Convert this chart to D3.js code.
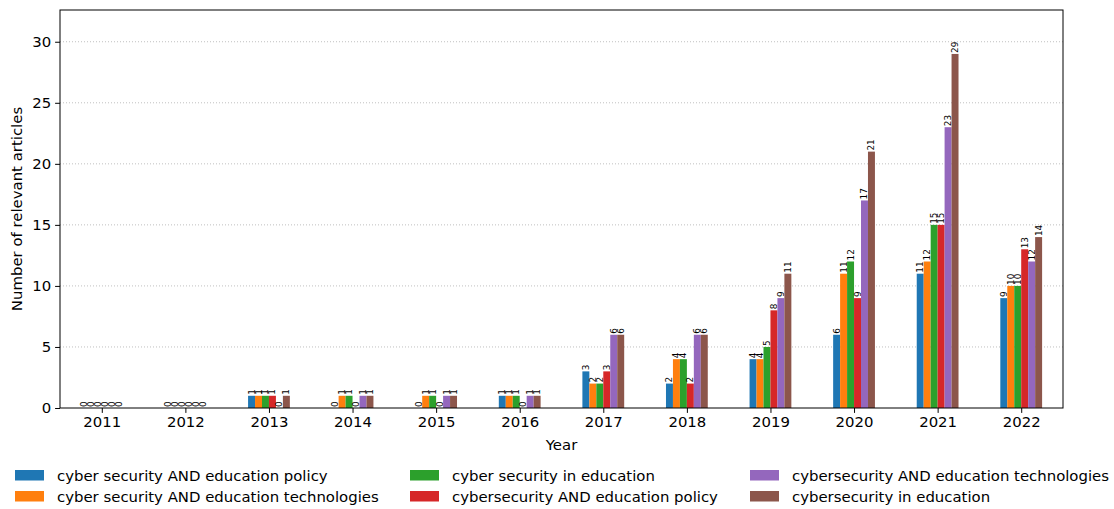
<!DOCTYPE html>
<html><head><meta charset="utf-8">
<script src="https://cdn.jsdelivr.net/npm/d3@7"></script>
<style>body{margin:0;background:#fff;} text{font-family:"DejaVu Sans",sans-serif;}</style>
</head><body><svg id="c" width="1114" height="509"></svg>
<script>
const years = ["2011","2012","2013","2014","2015","2016","2017","2018","2019","2020","2021","2022"];
const seriesNames = ["cyber security AND education policy","cyber security AND education technologies","cyber security in education","cybersecurity AND education policy","cybersecurity AND education technologies","cybersecurity in education"];
const s0 = [0,0,1,0,0,1,3,2,4,6,11,9];
const s1 = [0,0,1,1,1,1,2,4,4,11,12,10];
const s2 = [0,0,1,1,1,1,2,4,5,12,15,10];
const s3 = [0,0,1,0,0,0,3,2,8,9,15,13];
const s4 = [0,0,0,1,1,1,6,6,9,17,23,12];
const s5 = [0,0,1,1,1,1,6,6,11,21,29,14];
const yTicks = [0,5,10,15,20,25,30];
const colors = ["#1f77b4","#ff7f0e","#2ca02c","#d62728","#9467bd","#8c564b"];
const series = [s0,s1,s2,s3,s4,s5];

const FS = "14.9px";
const svg = d3.select("#c");
const L=60,R=1063,T=10,B=408;
const x = d3.scaleLinear().domain([-0.5,11.5]).range([L,R]);
const y = d3.scaleLinear().domain([0,32.6]).range([B,T]);
const w = 0.5/6;

// grid
svg.append("g").selectAll("line").data(yTicks.filter(d=>d>0)).join("line")
  .attr("x1",L).attr("x2",R).attr("y1",d=>y(d)).attr("y2",d=>y(d))
  .attr("stroke","#b0b0b0").attr("stroke-width",0.8).attr("stroke-dasharray","1,2");

// bars
series.forEach((s,j)=>{
  const g = svg.append("g");
  g.selectAll("rect").data(s).join("rect")
    .attr("x",(d,i)=>x(i+(j-2.5)*w-w/2))
    .attr("width",x(w)-x(0))
    .attr("y",d=>y(d)).attr("height",d=>y(0)-y(d))
    .attr("fill",colors[j]);
  g.selectAll("text").data(s).join("text")
    .attr("transform",(d,i)=>`translate(${x(i+(j-2.5)*w)},${y(d)-1}) rotate(-90)`)
    .attr("text-anchor","start").attr("dominant-baseline","central")
    .attr("font-size","8.9px").attr("fill","#000")
    .text(d=>d);
});

// frame
svg.append("rect").attr("x",L).attr("y",T).attr("width",R-L).attr("height",B-T)
  .attr("fill","none").attr("stroke","#000").attr("stroke-width",1);

// axes
const xa = svg.append("g").attr("transform",`translate(0,${B})`)
  .call(d3.axisBottom(x).tickValues(d3.range(years.length)).tickFormat(i=>years[i]).tickSize(4.9).tickPadding(4));
const ya = svg.append("g").attr("transform",`translate(${L},0)`)
  .call(d3.axisLeft(y).tickValues(yTicks).tickSize(4.9).tickPadding(4));
[xa,ya].forEach(a=>{a.select(".domain").remove();a.selectAll("text").attr("font-size",FS).attr("fill","#000").style("font-family","DejaVu Sans");a.selectAll("line").attr("stroke","#000");});

svg.append("text").attr("x",(L+R)/2).attr("y",450).attr("text-anchor","middle").attr("font-size",FS).text("Year");
svg.append("text").attr("transform",`translate(22,${(T+B)/2}) rotate(-90)`).attr("text-anchor","middle").attr("font-size",FS).text("Number of relevant articles");

// legend
const colX=[15,410,750], rowY=[470,491];
seriesNames.forEach((n,j)=>{
  const cx=colX[Math.floor(j/2)], ry=rowY[j%2];
  svg.append("rect").attr("x",cx).attr("y",ry).attr("width",29).attr("height",10.5).attr("fill",colors[j]);
  svg.append("text").attr("x",cx+42).attr("y",ry+6).attr("dominant-baseline","central").attr("font-size",FS).text(n);
});
</script></body></html>
